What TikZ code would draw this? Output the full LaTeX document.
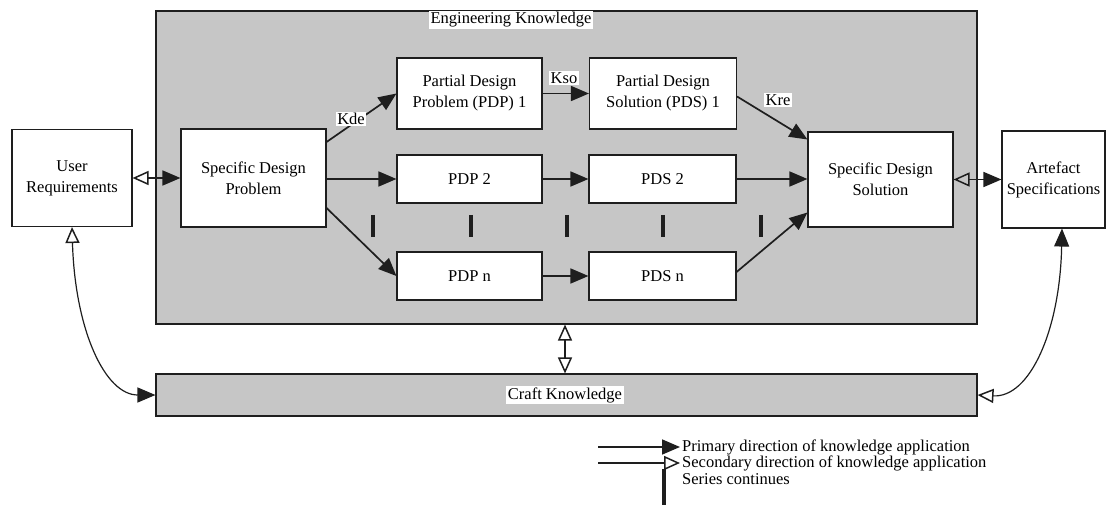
\documentclass[tikz,border=0pt]{standalone}
\usepackage{fontspec}
\setmainfont{Liberation Serif}
\usetikzlibrary{arrows.meta}
\definecolor{panelgray}{RGB}{198,198,198}
\definecolor{ink}{RGB}{30,30,30}
\begin{document}
\begin{tikzpicture}[x=1pt,y=-1pt,
  font=\fontsize{16.5}{21}\selectfont,
  box/.style={draw=ink, line width=1.1pt, fill=white, align=center, inner sep=0pt},
  panel/.style={draw=ink, line width=1.1pt, fill=panelgray, inner sep=0pt},
  tag/.style={fill=white, inner sep=1.5pt},
  fulltip/.tip={Triangle[length=18pt,width=15pt]},
  hollowtip/.tip={Triangle[open,length=16pt,width=14pt,line width=1.5pt]},
  link/.style={draw=ink, line width=1.7pt},
  curve/.style={draw=ink, line width=1.2pt},
  series/.style={draw=ink, line width=4pt}
]
\useasboundingbox (0,0) rectangle (1117,513);

% knowledge panels
\node[panel, minimum width=821pt, minimum height=313pt] (eng) at (566.5,167.5) {};
\node[panel, minimum width=821pt, minimum height=42pt] (craft) at (566.5,395) {};
\node[tag] (engt) at (511,20) {Engineering Knowledge};
\node[tag] (craftt) at (565,395) {Craft Knowledge};

% outer boxes
\node[box, minimum width=120pt, minimum height=97pt] (ur) at (72,178) {User\\Requirements};
\node[box, minimum width=103pt, minimum height=97pt] (as) at (1053.5,179.5) {Artefact\\Specifications};

% design problem / solution chain
\node[box, minimum width=145pt, minimum height=98pt] (sdp) at (253.5,178) {Specific Design\\Problem};
\node[box, minimum width=145pt, minimum height=71pt] (pdp1) at (469.5,93.5) {Partial Design\\Problem (PDP) 1};
\node[box, minimum width=147pt, minimum height=71pt] (pds1) at (663,93.5) {Partial Design\\Solution (PDS) 1};
\node[box, minimum width=145pt, minimum height=48pt] (pdp2) at (469.5,179) {PDP 2};
\node[box, minimum width=147pt, minimum height=48pt] (pds2) at (662.5,179) {PDS 2};
\node[box, minimum width=145pt, minimum height=48pt] (pdpn) at (469.5,276) {PDP n};
\node[box, minimum width=147pt, minimum height=48pt] (pdsn) at (662.5,276) {PDS n};
\node[box, minimum width=145pt, minimum height=95pt] (sds) at (880.5,179.5) {Specific Design\\Solution};

% primary connectors
\draw[link, -{fulltip}] ([yshift=36pt]sdp.east) -- (pdp1.west);
\draw[link, -{fulltip}] ([yshift=-1pt]sdp.east) -- (pdp2.west);
\draw[link, -{fulltip}] ([yshift=-30pt]sdp.east) -- (pdpn.west);
\draw[link, -{fulltip}] (pdp1.east) -- (pds1.west);
\draw[link, -{fulltip}] (pdp2.east) -- (pds2.west);
\draw[link, -{fulltip}] (pdpn.east) -- (pdsn.west);
\draw[link, -{fulltip}] ([yshift=-3pt]pds1.east) -- ([yshift=40pt]sds.west);
\draw[link, -{fulltip}] (pds2.east) -- ([yshift=0.5pt]sds.west);
\draw[link, -{fulltip}] ([yshift=4pt]pdsn.east) -- ([yshift=-33pt]sds.west);

% knowledge labels
\node[tag] (kde) at (351,119) {Kde};
\node[tag] (kso) at (564,78) {Kso};
\node[tag] (kre) at (778,100) {Kre};

% two-way links
\draw[link, {hollowtip}-{fulltip}] (ur.east) -- (sdp.west);
\draw[link, {hollowtip}-{fulltip}] (sds.east) -- (as.west);
\draw[curve, {hollowtip}-{hollowtip}] (eng.south -| craftt) -- (craft.north -| craftt);
\draw[curve, {hollowtip}-{fulltip}] (ur.south) .. controls (75,330) and (105,395) .. (craft.west);
\draw[curve, {fulltip}-{hollowtip}] ([xshift=8.5pt]as.south) .. controls (1060,330) and (1030,398) .. (craft.east);

% series marks
\foreach \sx in {373,471,567,663,761}
  \draw[series] (\sx,215) -- (\sx,237);

% legend
\coordinate (la1) at (598,447);
\coordinate (lb1) at (680,447);
\coordinate (la2) at (598,463);
\coordinate (lb2) at (680,463);
\coordinate (lc1) at (664,469);
\coordinate (lc2) at (664,505);
\draw[link, -{fulltip}] (la1) -- (lb1);
\draw[link, -{hollowtip}] (la2) -- (lb2);
\draw[series] (lc1) -- (lc2);
\node[anchor=west, inner sep=0pt] (lt1) at (682,447) {Primary direction of knowledge application};
\node[anchor=west, inner sep=0pt] (lt2) at (682,463) {Secondary direction of knowledge application};
\node[anchor=west, inner sep=0pt] (lt3) at (682,479) {Series continues};
\end{tikzpicture}
\end{document}
